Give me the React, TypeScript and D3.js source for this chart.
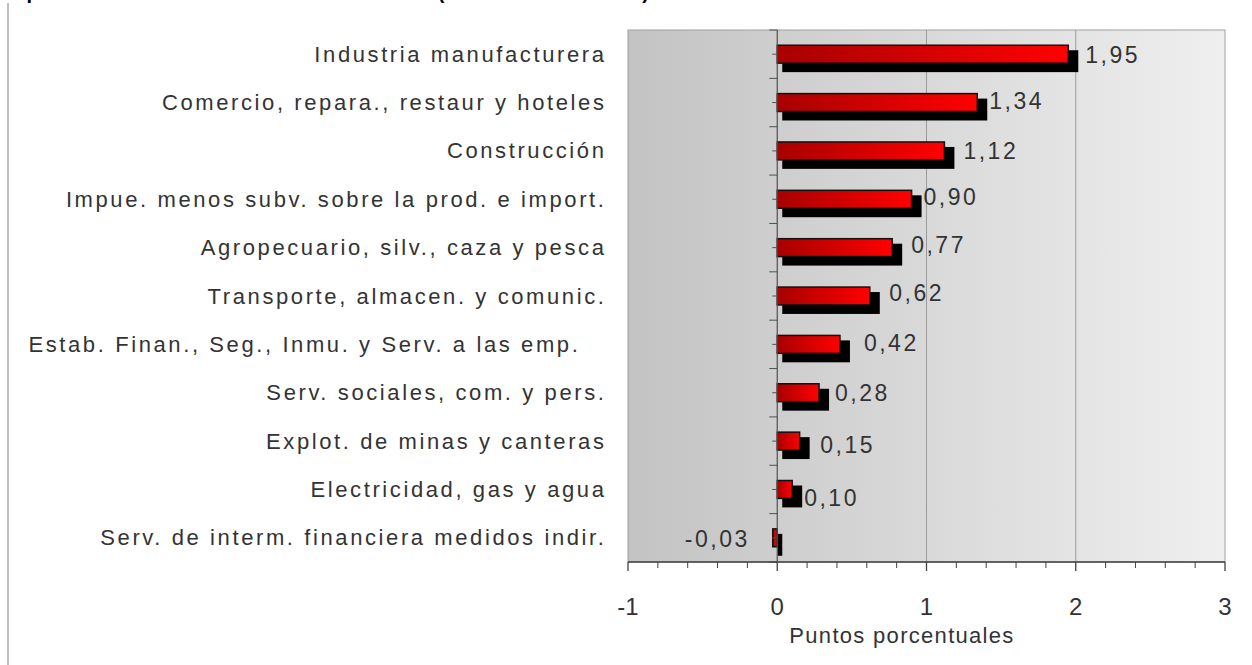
import React from "react";
import * as d3 from "d3";

const categories = [
  "Industria manufacturera",
  "Comercio, repara., restaur y hoteles",
  "Construcción",
  "Impue. menos subv. sobre la prod. e import.",
  "Agropecuario, silv., caza y pesca",
  "Transporte, almacen. y comunic.",
  "Estab. Finan., Seg., Inmu. y Serv. a las emp.   ",
  "Serv. sociales, com. y pers.",
  "Explot. de minas y canteras",
  "Electricidad, gas y agua",
  "Serv. de interm. financiera medidos indir.",
];
const values = [1.95, 1.34, 1.12, 0.9, 0.77, 0.62, 0.42, 0.28, 0.15, 0.1, -0.03];
const valueLabels = ["1,95", "1,34", "1,12", "0,90", "0,77", "0,62", "0,42", "0,28", "0,15", "0,10", "-0,03"];
const xTicks = [-1, 0, 1, 2, 3];
const xTickLabels = ["-1", "0", "1", "2", "3"];
const axisTitle = "Puntos porcentuales";
const chartTitle = "Aporte al crecimiento del PIB en el año 2008 (incidencia del sector)";

// label placement nudges (style, px)
const labelDx = [17, 12, 19, 12, 19, 19.5, 24, 16, 20.6, 12, -25.5];
const labelDy = [1.3, -1.6, 0, -2.4, -2.8, -3, -1.6, 0, 3.6, 8.2, 1.3];

const W = 1252;
const H = 665;
const plot = { left: 628, right: 1225, top: 30, bottom: 562 };
const FONT = "'Liberation Sans', Arial, Helvetica, sans-serif";
const TXT = "#333333";

export default function App() {
  const x = d3.scaleLinear().domain([-1, 3]).range([plot.left, plot.right]);
  const y = d3.scaleBand<string>().domain(categories).range([plot.top, plot.bottom]);
  const bw = y.bandwidth();
  const barH = bw * 0.37;
  const minorTicks = d3.range(-1, 3.0001, 0.2).map((v) => Math.round(v * 10) / 10);
  const x0 = x(0);

  return (
    <svg
      width={W}
      height={H}
      style={{ position: "absolute", left: 0, top: 0, display: "block" }}
      fontFamily={FONT}
    >
      <defs>
        <linearGradient id="bg" x1="0" x2="1" y1="0" y2="0">
          <stop offset="0" stopColor="#c3c3c3" />
          <stop offset="1" stopColor="#efefef" />
        </linearGradient>
        <linearGradient id="barg" x1="0" x2="1" y1="0" y2="0">
          <stop offset="0" stopColor="#a80000" />
          <stop offset="1" stopColor="#ff0000" />
        </linearGradient>
      </defs>
      <rect x={0} y={0} width={W} height={H} fill="#ffffff" />
      {/* outer frame line */}
      <rect x={7} y={3} width={2} height={H - 3} fill="#c0c0c0" />
      {/* title (cut off at top, as in the reference) */}
      <text x={12} y={-1} fontSize={20} fontWeight="bold" fill="#000">
        {chartTitle}
      </text>

      {/* plot background */}
      <rect
        x={plot.left}
        y={plot.top}
        width={plot.right - plot.left}
        height={plot.bottom - plot.top}
        fill="url(#bg)"
        stroke="#a0a0a0"
        strokeWidth={1}
      />
      {/* gridlines */}
      {xTicks
        .filter((t) => t > 0 && t < 3)
        .map((t) => (
          <line key={"g" + t} x1={x(t)} x2={x(t)} y1={plot.top} y2={plot.bottom} stroke="#9a9a9a" strokeWidth={1} />
        ))}

      {/* bars */}
      {values.map((v, i) => {
        const cy = (y(categories[i]) as number) + bw / 2;
        const xa = Math.min(x(v), x0);
        const xb = Math.max(x(v), x0);
        const top = cy - barH / 2;
        return (
          <g key={"b" + i}>
            <rect
              x={xa + 5}
              y={top + 5}
              width={xb + (v > 0 ? 10 : 5) - (xa + 5)}
              height={barH + 4}
              fill="#000"
            />
            <rect x={xa} y={top} width={xb - xa} height={barH} fill="url(#barg)" stroke="#111" strokeWidth={1.5} />
          </g>
        );
      })}

      {/* y axis */}
      <line x1={x0} x2={x0} y1={plot.top} y2={plot.bottom} stroke="#505050" strokeWidth={1.2} />
      {categories.map((c, i) => {
        const yt = y(c) as number;
        return (
          <g key={"yt" + i}>
            <line x1={x0 - 8} x2={x0} y1={yt} y2={yt} stroke="#505050" strokeWidth={1} />
            <line x1={x0 - 5} x2={x0} y1={yt + bw / 2} y2={yt + bw / 2} stroke="#505050" strokeWidth={1} />
          </g>
        );
      })}
      <line x1={x0 - 8} x2={x0} y1={plot.bottom} y2={plot.bottom} stroke="#505050" strokeWidth={1} />

      {/* x axis */}
      <line x1={plot.left} x2={plot.right} y1={plot.bottom} y2={plot.bottom} stroke="#404040" strokeWidth={1.3} />
      {minorTicks.map((t) => {
        const major = Math.abs(t - Math.round(t)) < 1e-6;
        return (
          <line
            key={"mt" + t}
            x1={x(t)}
            x2={x(t)}
            y1={plot.bottom}
            y2={plot.bottom + (major ? 9 : 6)}
            stroke="#404040"
            strokeWidth={major ? 1.3 : 1}
          />
        );
      })}
      {xTicks.map((t, i) => (
        <text
          key={"xl" + t}
          x={x(t)}
          y={606}
          fontSize={24}
          fill={TXT}
          textAnchor="middle"
          dominantBaseline="central"
        >
          {xTickLabels[i]}
        </text>
      ))}
      <text x={902} y={635} fontSize={22} fill={TXT} textAnchor="middle" dominantBaseline="central" letterSpacing={1.3}>
        {axisTitle}
      </text>

      {/* category labels */}
      {categories.map((c, i) => (
        <text
          key={"cl" + i}
          x={606.5}
          y={(y(c) as number) + bw / 2}
          fontSize={22}
          fill={TXT}
          textAnchor="end"
          dominantBaseline="central"
          letterSpacing={2.6}
          style={{ whiteSpace: "pre" }}
        >
          {c}
        </text>
      ))}

      {/* value labels */}
      {values.map((v, i) => {
        const cy = (y(categories[i]) as number) + bw / 2 + labelDy[i];
        return (
          <text
            key={"vl" + i}
            x={x(v) + labelDx[i] + (v < 0 ? 2.5 : 0)}
            y={cy}
            fontSize={23}
            fill={TXT}
            textAnchor={v < 0 ? "end" : "start"}
            dominantBaseline="central"
            letterSpacing={2.5}
          >
            {valueLabels[i]}
          </text>
        );
      })}
    </svg>
  );
}
